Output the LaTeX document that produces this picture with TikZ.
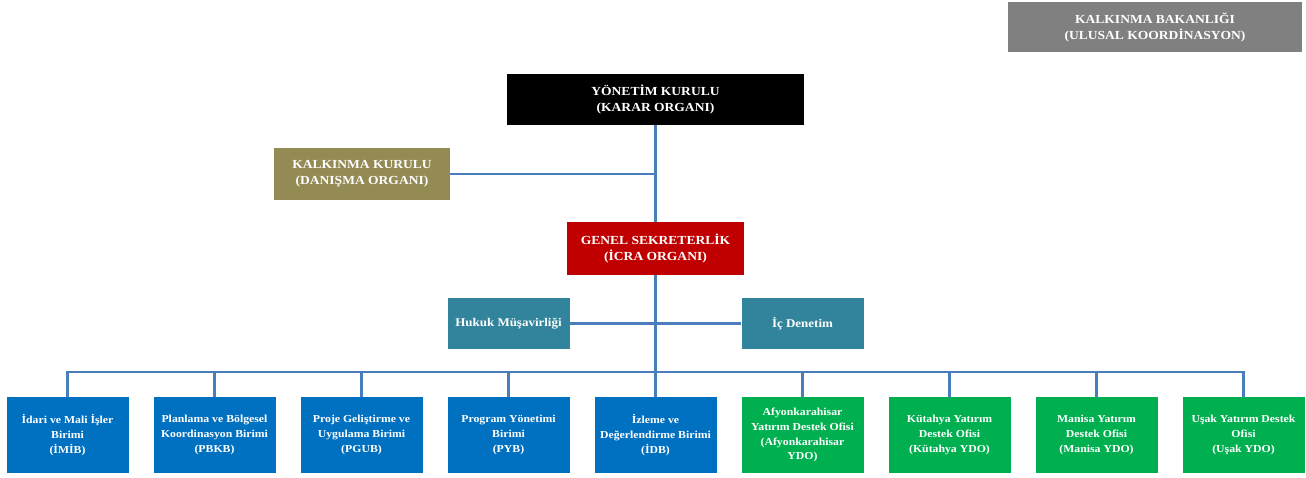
\documentclass[tikz,border=0pt]{standalone}
\usepackage{fontspec}
\setmainfont[FakeStretch=1.1]{Liberation Serif}
\usepackage{tikz}
\usepackage{xcolor}
\definecolor{bakgray}{HTML}{808080}
\definecolor{kurulolive}{HTML}{948A54}
\definecolor{sekred}{HTML}{C00000}
\definecolor{musteal}{HTML}{31849B}
\definecolor{birimblue}{HTML}{0070C0}
\definecolor{ofisgreen}{HTML}{00B050}
\definecolor{linkblue}{HTML}{4A7EBB}

\begin{document}
\begin{tikzpicture}[x=1pt,y=-1pt,
  every node/.style={inner sep=0pt, align=center, text=white},
  topbox/.style={font=\fontsize{12.3}{16}\selectfont\bfseries},
  midbox/.style={minimum width=122pt, minimum height=51pt, fill=musteal, font=\fontsize{11.8}{14}\selectfont\bfseries},
  unitbox/.style={minimum width=122pt, minimum height=76pt, font=\fontsize{10.7}{14.8}\selectfont\bfseries},
  link/.style={draw=linkblue, line width=2.5pt}]
\useasboundingbox (0,0) rectangle (1306,477);
\node[topbox, fill=bakgray, minimum width=294pt, minimum height=50pt] (bak) at (1155,27) {KALKINMA BAKANLIĞI\\(ULUSAL KOORDİNASYON)};
\node[topbox, fill=black, minimum width=297pt, minimum height=51pt] (yk) at (655.5,99.5) {YÖNETİM KURULU\\(KARAR ORGANI)};
\node[topbox, fill=kurulolive, minimum width=176pt, minimum height=52pt] (kk) at (362,174) {KALKINMA KURULU\\(DANIŞMA ORGANI)};
\node[topbox, fill=sekred, minimum width=177pt, minimum height=53pt] (gs) at (655.5,248.5) {GENEL SEKRETERLİK\\(İCRA ORGANI)};
\node[midbox] (hm) at (508.5,323.5) {Hukuk Müşavirliği};
\node[midbox] (icd) at (802.5,323.5) {İç Denetim};
\coordinate (bus) at (655.5,372);
\node[unitbox, fill=birimblue] (b1) at (67.5,435) {İdari ve Mali İşler\\Birimi\\(İMİB)};
\node[unitbox, fill=birimblue] (b2) at (214.5,435) {Planlama ve Bölgesel\\Koordinasyon Birimi\\(PBKB)};
\node[unitbox, fill=birimblue] (b3) at (361.5,435) {Proje Geliştirme ve\\Uygulama Birimi\\(PGUB)};
\node[unitbox, fill=birimblue] (b4) at (508.5,435) {Program Yönetimi\\Birimi\\(PYB)};
\node[unitbox, fill=birimblue] (b5) at (655.5,435) {İzleme ve\\Değerlendirme Birimi\\(İDB)};
\node[unitbox, fill=ofisgreen] (b6) at (802.5,435) {Afyonkarahisar\\Yatırım Destek Ofisi\\(Afyonkarahisar\\YDO)};
\node[unitbox, fill=ofisgreen] (b7) at (949.5,435) {Kütahya Yatırım\\Destek Ofisi\\(Kütahya YDO)};
\node[unitbox, fill=ofisgreen] (b8) at (1096.5,435) {Manisa Yatırım\\Destek Ofisi\\(Manisa YDO)};
\node[unitbox, fill=ofisgreen] (b9) at (1243.5,435) {Uşak Yatırım Destek\\Ofisi\\(Uşak YDO)};
\draw[link] (yk.south) -- (gs.north);
\draw[link] (kk.east) -- (kk.east -| yk.south);
\draw[link] (gs.south) -- (bus);
\draw[link] (hm.east) -- (icd.west);
\draw[link] (b1.north) |- (b9.north |- bus) -- (b9.north);
\foreach \i in {2,...,8}
  \draw[link] (b\i.north) -- (b\i.north |- bus);
\end{tikzpicture}
\end{document}
